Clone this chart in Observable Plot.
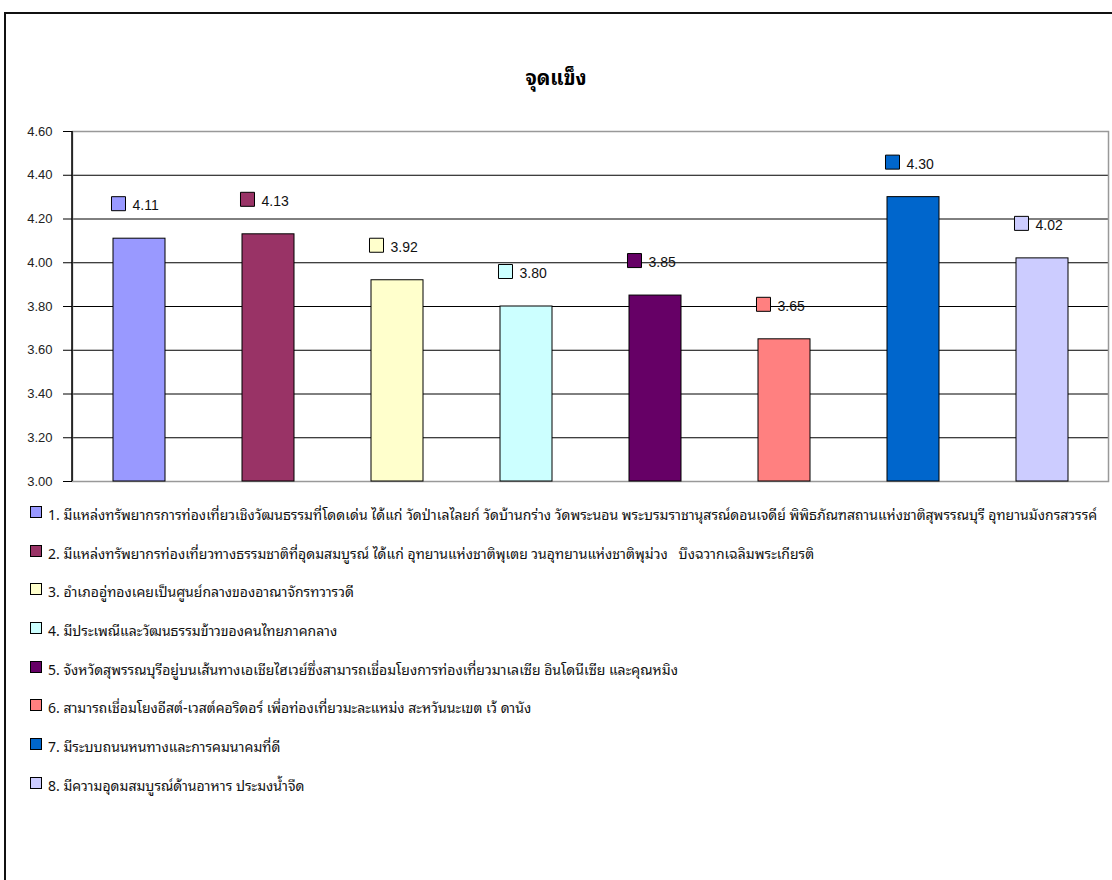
<!DOCTYPE html>
<html>
<head>
<meta charset="utf-8">
<script src="https://cdn.jsdelivr.net/npm/d3@7"></script>
<script src="https://cdn.jsdelivr.net/npm/@observablehq/plot@0.6"></script>
<style>
  html, body { margin: 0; padding: 0; background: #fff; width: 1112px; height: 880px; overflow: hidden; }
  #frame { position: absolute; left: 4px; top: 12px; width: 1200px; height: 900px; border-left: 2px solid #111; border-top: 2px solid #111; }
  #title { position: absolute; left: 0; width: 1112px; top: 60px; text-align: center; font: bold 20px "Noto Sans Thai Looped", "Noto Sans Thai", "Tahoma", "DejaVu Sans", sans-serif; color: #000; }
  #chart { position: absolute; left: 0; top: 100px; }
  #legend { position: absolute; left: 30px; top: 502px; font: 14px "Noto Sans Thai Looped", "Noto Sans Thai", "Tahoma", "DejaVu Sans", sans-serif; color: #111; }
  .row { height: 38.7px; white-space: pre; display: flex; align-items: flex-start; }
  .sw { width: 10px; height: 10px; border: 1px solid #000; margin-right: 6px; margin-top: 4px; flex: none; }
</style>
</head>
<body>
<div id="frame"></div>
<div id="title"></div>
<div id="chart"></div>
<div id="legend"></div>
<script>
const title = "จุดแข็ง";
const ids = ["1", "2", "3", "4", "5", "6", "7", "8"];
const labels = [
  "1. มีแหล่งทรัพยากรการท่องเที่ยวเชิงวัฒนธรรมที่โดดเด่น ได้แก่ วัดป่าเลไลยก์ วัดบ้านกร่าง วัดพระนอน พระบรมราชานุสรณ์ดอนเจดีย์ พิพิธภัณฑสถานแห่งชาติสุพรรณบุรี อุทยานมังกรสวรรค์",
  "2. มีแหล่งทรัพยากรท่องเที่ยวทางธรรมชาติที่อุดมสมบูรณ์ ได้แก่ อุทยานแห่งชาติพุเตย วนอุทยานแห่งชาติพุม่วง   บึงฉวากเฉลิมพระเกียรติ",
  "3. อำเภออู่ทองเคยเป็นศูนย์กลางของอาณาจักรทวารวดี",
  "4. มีประเพณีและวัฒนธรรมข้าวของคนไทยภาคกลาง",
  "5. จังหวัดสุพรรณบุรีอยู่บนเส้นทางเอเชียไฮเวย์ซึ่งสามารถเชื่อมโยงการท่องเที่ยวมาเลเซีย อินโดนีเซีย และคุณหมิง",
  "6. สามารถเชื่อมโยงอีสต์-เวสต์คอริดอร์ เพื่อท่องเที่ยวมะละแหม่ง สะหวันนะเขต เว้ ดานัง",
  "7. มีระบบถนนหนทางและการคมนาคมที่ดี",
  "8. มีความอุดมสมบูรณ์ด้านอาหาร ประมงน้ำจืด"
];
const values = [4.11, 4.13, 3.92, 3.80, 3.85, 3.65, 4.30, 4.02];
const colors = ["#9999FF", "#993366", "#FFFFCC", "#CCFFFF", "#660066", "#FF8080", "#0066CC", "#CCCCFF"];
const yTicks = [3.0, 3.2, 3.4, 3.6, 3.8, 4.0, 4.2, 4.4, 4.6];

const data = ids.map((id, i) => ({id, label: labels[i], value: values[i], color: colors[i]}));

document.getElementById("title").textContent = title;

const numFont = "Liberation Sans, Arial, sans-serif";

const chart = Plot.plot({
  width: 1112,
  height: 400,
  marginTop: 31,
  marginBottom: 19,
  marginLeft: 72,
  marginRight: 4,
  style: {fontFamily: numFont, fontSize: "13px", color: "#222", overflow: "visible"},
  x: {domain: ids, paddingInner: 0.6, paddingOuter: 0.3, axis: null},
  y: {domain: [3.0, 4.6], ticks: yTicks, tickFormat: d => d.toFixed(2), label: null, tickSize: 9, tickPadding: 11},
  color: {type: "identity"},
  marks: [
    Plot.gridY(yTicks.slice(1, -1), {stroke: "#000", strokeOpacity: 1, strokeWidth: 1}),
    Plot.frame({stroke: "#999", strokeWidth: 1.5}),
    Plot.barY(data, {x: "id", y1: 3.0, y2: "value", fill: "color", stroke: "#000", strokeWidth: 1}),
    Plot.axisY({ticks: yTicks, tickFormat: d => d.toFixed(2), tickSize: 9, tickPadding: 11, stroke: "#000", label: null}),
    Plot.dot(data, {x: "id", y: "value", symbol: "square", r: 7.9, fill: "color", stroke: "#000", strokeWidth: 1, dx: -21, dy: -35}),
    Plot.text(data, {x: "id", y: "value", text: d => d.value.toFixed(2), textAnchor: "start", dx: -7, dy: -33, fontSize: 14, fill: "#111"})
  ]
});
document.getElementById("chart").appendChild(chart);

// left axis line
const svg = d3.select(chart);
svg.append("line").attr("x1", 72).attr("x2", 72).attr("y1", 31).attr("y2", 381).attr("stroke", "#000").attr("stroke-width", 1.5);

const legend = document.getElementById("legend");
data.forEach(d => {
  const row = document.createElement("div");
  row.className = "row";
  const sw = document.createElement("span");
  sw.className = "sw";
  sw.style.background = d.color;
  const t = document.createElement("span");
  t.textContent = d.label;
  row.appendChild(sw);
  row.appendChild(t);
  legend.appendChild(row);
});
</script>
</body>
</html>
